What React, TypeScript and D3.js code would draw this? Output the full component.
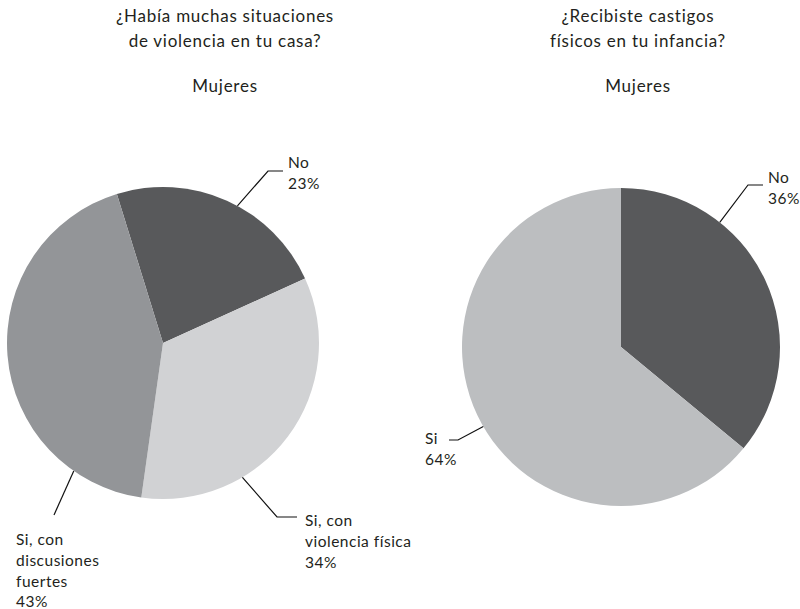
import React from "react";
import * as d3 from "d3";

const leftTitle = ["¿Había muchas situaciones", "de violencia en tu casa?"];
const rightTitle = ["¿Recibiste castigos", "físicos en tu infancia?"];
const subtitle = "Mujeres";

const leftCategories = ["No", "Si, con violencia física", "Si, con discusiones fuertes"];
const leftValues = [23, 34, 43];
const leftLabelLines = [["No"], ["Si, con", "violencia física"], ["Si, con", "discusiones", "fuertes"]];

const rightCategories = ["No", "Si"];
const rightValues = [36, 64];
const rightLabelLines = [["No"], ["Si"]];

const FONT = "Lato, 'Noto Sans', sans-serif";
const TXT = "#231f20";
const LABEL_SIZE = 15.5;
const LABEL_LS = 0.5;
const LINE_H = 20.8;

type LabelCfg = {
  angle: number;
  elbow: [number, number];
  end: [number, number];
  text: [number, number];
};

function Pie({
  cx, cy, r, startDeg, values, categories, colors, lines, labels,
}: {
  cx: number; cy: number; r: number; startDeg: number;
  values: number[]; categories: string[]; colors: string[];
  lines: string[][]; labels: LabelCfg[];
}) {
  const start = (startDeg * Math.PI) / 180;
  const pie = d3.pie<number>().sort(null).value((d) => d)
    .startAngle(start).endAngle(start + 2 * Math.PI);
  const arcs = pie(values);
  const arc = d3.arc<d3.PieArcDatum<number>>().innerRadius(0).outerRadius(r);
  const total = d3.sum(values);
  return (
    <g>
      <g transform={`translate(${cx},${cy})`}>
        {arcs.map((a, i) => (
          <path key={categories[i]} d={arc(a) || ""} fill={colors[i]} />
        ))}
      </g>
      {labels.map((l, i) => {
        const ang = (l.angle * Math.PI) / 180;
        const sx = cx + r * Math.sin(ang);
        const sy = cy - r * Math.cos(ang);
        const txtLines = [...lines[i], `${Math.round((values[i] / total) * 100)}%`];
        return (
          <g key={categories[i]}>
            <polyline
              points={`${sx},${sy} ${l.elbow[0]},${l.elbow[1]} ${l.end[0]},${l.end[1]}`}
              fill="none" stroke="#111" strokeWidth={1.2}
            />
            <text x={l.text[0]} y={l.text[1]} fontFamily={FONT}
              fontSize={LABEL_SIZE} letterSpacing={LABEL_LS} fill={TXT}>
              {txtLines.map((t, j) => (
                <tspan key={j} x={l.text[0]} dy={j === 0 ? 0 : LINE_H}>{t}</tspan>
              ))}
            </text>
          </g>
        );
      })}
    </g>
  );
}

export default function App() {
  const leftColors = ["#58595b", "#d1d2d4", "#939598"];
  const rightColors = ["#58595b", "#bcbec0"];
  const titleProps = {
    textAnchor: "middle" as const, fontFamily: FONT,
    fontSize: 17, letterSpacing: 0.75, fill: TXT,
  };
  return (
    <svg width={800} height={609} style={{ position: "absolute", left: 0, top: 0, background: "#fff" }}>
      <text x={225} y={22} {...titleProps}>
        {leftTitle.map((t, i) => (
          <tspan key={i} x={225} dy={i === 0 ? 0 : 25}>{t}</tspan>
        ))}
      </text>
      <text x={225} y={92} {...titleProps}>{subtitle}</text>
      <text x={638} y={22} {...titleProps}>
        {rightTitle.map((t, i) => (
          <tspan key={i} x={638} dy={i === 0 ? 0 : 25}>{t}</tspan>
        ))}
      </text>
      <text x={638} y={92} {...titleProps}>{subtitle}</text>

      <Pie
        cx={163} cy={343} r={156} startDeg={-17.2}
        values={leftValues} categories={leftCategories} colors={leftColors} lines={leftLabelLines}
        labels={[
          { angle: 28.5, elbow: [268, 171], end: [283, 171], text: [288, 168] },
          { angle: 149.4, elbow: [277, 517], end: [297, 517], text: [305, 526] },
          { angle: 214.9, elbow: [54, 515], end: [54, 515], text: [16, 545] },
        ]}
      />
      <Pie
        cx={621} cy={347} r={159} startDeg={0}
        values={rightValues} categories={rightCategories} colors={rightColors} lines={rightLabelLines}
        labels={[
          { angle: 38.4, elbow: [748, 185], end: [763, 185], text: [768, 183] },
          { angle: 240, elbow: [458, 440], end: [449, 440], text: [425, 444] },
        ]}
      />
    </svg>
  );
}
